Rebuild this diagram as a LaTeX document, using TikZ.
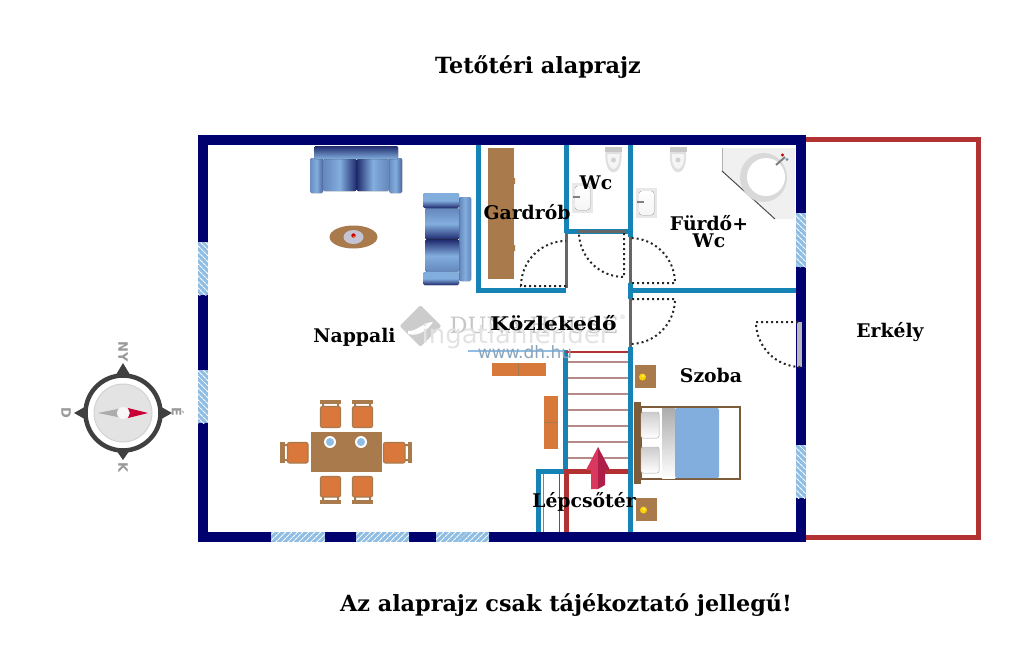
\documentclass[tikz,border=0pt]{standalone}
\usepackage{fontspec}
\usepackage{tikz}
\setmainfont{DejaVu Serif}
\setsansfont{DejaVu Sans}
\usetikzlibrary{patterns.meta,shapes.geometric}
\definecolor{wallnavy}{HTML}{00006E}
\definecolor{wallblue}{HTML}{1583B5}
\definecolor{wallgray}{HTML}{666666}
\definecolor{balconyred}{HTML}{B23234}
\definecolor{glassblue}{HTML}{8FBDE3}
\definecolor{woodbrown}{HTML}{A87A4C}
\definecolor{seatorange}{HTML}{D9783A}
\definecolor{sofadark}{HTML}{1F2A6E}
\definecolor{sofalight}{HTML}{82AEDD}
\definecolor{stairpink}{HTML}{B58A88}
\definecolor{arrowlight}{HTML}{D9395F}
\definecolor{arrowdark}{HTML}{AF1E48}
\tikzset{
  room_label/.style = {font=\bfseries\fontsize{18.8}{19}\selectfont, inner sep=0pt, text=black},
  big_label/.style = {font=\bfseries\fontsize{22.3}{24}\selectfont, inner sep=0pt, text=black},
  compass_label/.style = {font=\sffamily\bfseries\fontsize{13}{13}\selectfont, text=gray!80, inner sep=0pt, rotate=-90},
  outer_wall/.style = {draw=wallnavy, line width=10pt},
  inner_wall/.style = {draw=wallblue, line width=5pt},
  door_gap/.style = {draw=wallgray, line width=3pt},
  door_swing/.style = {draw=black!85, line width=2pt, dash pattern=on 2pt off 3pt},
  sofa_h/.style = {left color=sofalight!75!sofadark, right color=sofalight!45!sofadark, middle color=sofalight},
  sofa_v/.style = {top color=sofalight, bottom color=sofadark, middle color=sofalight},
  sofa_part/.style = {rounded corners=1.5pt, draw=none},
  chair_seat/.style = {fill=seatorange, draw=woodbrown, line width=1.2pt, rounded corners=2pt},
  chair_back/.style = {fill=woodbrown, draw=none},
  plate_rim/.style = {fill=white, draw=none},
  cabinet/.style = {fill=seatorange!90!brown, draw=none},
  window_hatch/.style = {pattern={Lines[angle=#1,distance=4pt,line width=1.1pt]}, pattern color=white},
}
\begin{document}
\begin{tikzpicture}[x=1pt,y=-1pt]
  \useasboundingbox (0,0) rectangle (1024,661);

  % balcony
  \draw [draw=balconyred, line width=5pt] (806,139.5) -- (978,139.5) -- (978,537) -- (806,537);

  % walls
  \draw [outer_wall] (203,140) rectangle (801,537);
  \foreach \ya/\yb in {242/295, 370/423} {
    \fill [glassblue] (198,\ya) rectangle (208,\yb);
    \fill [window_hatch=-45] (198,\ya) rectangle (208,\yb);
  }
  \foreach \ya/\yb in {213/267, 445/498} {
    \fill [glassblue] (796,\ya) rectangle (806,\yb);
    \fill [window_hatch=-45] (796,\ya) rectangle (806,\yb);
  }
  \foreach \xa/\xb in {271/325, 356/409, 436/489} {
    \fill [glassblue] (\xa,532) rectangle (\xb,542);
    \fill [window_hatch=45] (\xa,532) rectangle (\xb,542);
  }

  \draw [inner_wall] (566,233) -- (566,145) (566,290) -- (478.5,290) -- (478.5,145);
  \draw [door_gap] (566,233) -- (566,288);
  \draw [inner_wall] (566,231) -- (630,231);
  \draw [door_gap] (578,231) -- (626,231);
  \draw [inner_wall] (630,145) -- (630,237) (630,283) -- (630,299) (630,347) -- (630,532);
  \draw [door_gap] (630,237) -- (630,283) (630,299) -- (630,347);
  \draw [inner_wall] (630,290) -- (796,290);
  \fill [gray!55] (796.5,322) rectangle (801.5,367);

  % doors
  \draw [door_swing] (566,286) -- (521,286) arc [start angle=180, end angle=270, radius=45];
  \draw [door_swing] (624,233) -- (624,277) arc [start angle=90, end angle=180, radius=45];
  \draw [door_swing] (632,283) -- (675,283) arc [start angle=0, end angle=-90, radius=45];
  \draw [door_swing] (632,299) -- (675,299) arc [start angle=0, end angle=90, radius=45];
  \draw [door_swing] (798,322) -- (756,322) arc [start angle=180, end angle=90, radius=45];

  % stairs
  \draw [draw=glassblue, line width=2pt] (468,351) -- (565,351);
  \draw [inner_wall] (565.5,350) -- (565.5,472);
  \draw [draw=balconyred, line width=2pt] (566,351.5) -- (628,351.5);
  \foreach \ty in {362,378,...,458} {
    \draw [draw=stairpink, line width=1.3pt] (568,\ty) -- (627.5,\ty);
  }
  \draw [inner_wall] (538.5,532) -- (538.5,471) -- (565,471);
  \draw [draw=balconyred, line width=5pt] (627.5,471.5) -- (566,471.5) -- (566,532);
  \draw [draw=balconyred, line width=.7pt] (559,474) -- (559,532);
  \draw [draw=gray, line width=.7pt] (543,474) -- (543,532);
  \fill [arrowlight] (598,447) -- (586,470) -- (591,470) -- (591,489) -- (598,489) -- cycle;
  \fill [arrowdark] (598,447) -- (610,470) -- (605,470) -- (605,485) -- (598,489) -- cycle;

  % sofa top
  \fill [sofa_part, sofa_h] (310,158) rectangle (323,193);
  \fill [sofa_part, sofa_h] (389,158) rectangle (402,193);
  \fill [sofa_part, left color=sofalight!70!sofadark, right color=sofadark, middle color=sofalight] (323,159) rectangle (356.5,191);
  \fill [sofa_part, left color=sofadark, right color=sofalight!70!sofadark, middle color=sofalight] (356.5,159) rectangle (389,191);
  \fill [sofa_part, bottom color=sofalight, top color=sofadark] (314,146) rectangle (398,159);
  % sofa side
  \fill [sofa_part, left color=sofalight!70!sofadark, right color=sofalight!70!sofadark, middle color=sofalight] (459,197) rectangle (471,281);
  \fill [sofa_part, top color=sofalight!70!sofadark, bottom color=sofadark, middle color=sofalight] (425,208) rectangle (459,239.5);
  \fill [sofa_part, top color=sofadark, bottom color=sofalight!70!sofadark, middle color=sofalight] (425,239.5) rectangle (459,272);
  \fill [sofa_part, sofa_v] (423,193) rectangle (459,208);
  \fill [sofa_part, sofa_v] (423,272) rectangle (459,285);

  % coffee table
  \fill [woodbrown] (353.5,237) ellipse [x radius=24, y radius=11.5];
  \fill [blue!15!gray!40] (353.5,237) ellipse [x radius=10, y radius=7];
  \fill [red!80!black] (353.5,235.5) circle [radius=2.2];
  \fill [orange] (354,236.5) circle [radius=.8];

  % dining table
  \foreach \cx in {320,352} {
    \fill [chair_back] (\cx,399.5) rectangle (\cx+21,404);
    \fill [chair_back] (\cx+2,404) rectangle (\cx+4,407) (\cx+17,404) rectangle (\cx+19,407);
    \draw [chair_seat] (\cx+.5,406.5) rectangle (\cx+20.5,427.5);
    \fill [chair_back] (\cx,499.5) rectangle (\cx+21,504);
    \fill [chair_back] (\cx+2,497) rectangle (\cx+4,500) (\cx+17,497) rectangle (\cx+19,500);
    \draw [chair_seat] (\cx+.5,476.5) rectangle (\cx+20.5,497);
  }
  \fill [chair_back] (280,442) rectangle (285,463);
  \fill [chair_back] (285,444) rectangle (288,446) (285,459) rectangle (288,461);
  \draw [chair_seat] (287.5,442.5) rectangle (308,463);
  \fill [chair_back] (407.5,442) rectangle (412,463);
  \fill [chair_back] (405,444) rectangle (408,446) (405,459) rectangle (408,461);
  \draw [chair_seat] (383.5,442.5) rectangle (405,463);
  \fill [woodbrown] (311,432) rectangle (381.5,472);
  \foreach \px in {330,361} {
    \fill [plate_rim] (\px,442) circle [radius=6];
    \fill [glassblue] (\px,442) circle [radius=4];
  }

  % cabinets
  \fill [cabinet] (492,363) rectangle (546,376);
  \draw [draw=woodbrown, line width=.4pt] (518.5,363) -- (518.5,376);
  \fill [cabinet] (544,396) rectangle (558,449);
  \draw [draw=woodbrown, line width=.4pt] (544,422.5) -- (558,422.5);

  % wardrobe
  \fill [woodbrown] (488,148) rectangle (513.5,279);
  \fill [woodbrown] (513.5,178) rectangle (515,184) (513.5,245) rectangle (515,251);

  % bed
  \fill [woodbrown!75!black] (634,402) rectangle (641,484);
  \draw [draw=woodbrown!75!black, line width=2.5pt] (641,407) rectangle (740,479);
  \fill [top color=gray!65, bottom color=white] (662,408) rectangle (675,478);
  \fill [rounded corners=2pt, fill=sofalight] (675,408) rectangle (719,478);
  \fill [rounded corners=2pt, top color=gray!40, bottom color=white, draw=gray!50, line width=.4pt] (641,412) rectangle (659,438);
  \fill [rounded corners=2pt, top color=gray!40, bottom color=white, draw=gray!50, line width=.4pt] (641,447) rectangle (659,473);

  % night tables
  \foreach \nx/\ny in {635/365, 636/498} {
    \fill [woodbrown] (\nx,\ny) rectangle (\nx+21,\ny+23);
    \fill [yellow!70!orange] (\nx+7.5,\ny+12) circle [radius=3.5];
    \fill [yellow!40!white] (\nx+8,\ny+11) circle [radius=1.2];
  }

  % toilets
  \foreach \tx in {613.5,678} {
    \fill [gray!45] (\tx-8.5,147) rectangle (\tx+8.5,152);
    \fill [gray!25] (\tx-8,152) -- (\tx+8,152) .. controls (\tx+9,164) and (\tx+5,172.5) .. (\tx,172.5) .. controls (\tx-5,172.5) and (\tx-9,164) .. (\tx-8,152);
    \fill [gray!8] (\tx-6,154) -- (\tx+6,154) .. controls (\tx+7,163) and (\tx+3,169) .. (\tx,169) .. controls (\tx-3,169) and (\tx-7,163) .. (\tx-6,154);
    \fill [gray!35] (\tx,160) circle [radius=2.5];
  }

  % sinks
  \foreach \sx/\sy in {572/183, 636/188} {
    \fill [gray!18] (\sx,\sy) rectangle (\sx+21,\sy+30);
    \fill [rounded corners=3pt, top color=white, bottom color=gray!8] (\sx+3,\sy+3) rectangle (\sx+18,\sy+27);
    \fill [gray] (\sx+1,\sy+13) rectangle (\sx+8,\sy+15);
  }

  % bath
  \fill [gray!12] (722,148) -- (795,148) -- (795,219) -- (775,219) -- (722,171) -- cycle;
  \draw [draw=gray!60, line width=1pt] (722,148) -- (722,171);
  \draw [draw=black!70, line width=1pt] (722,171) -- (775,219);
  \fill [gray!30] (763.5,177.5) ellipse [x radius=23.5, y radius=24.5];
  \fill [white] (766,177) ellipse [x radius=19, y radius=19];
  \draw [draw=gray, line width=2pt] (776,165) -- (785,157);
  \fill [red!70!black] (782.5,155) circle [radius=1.6];
  \fill [glassblue!80!black] (787,159.5) circle [radius=1.6];

  % watermark
  \node (logo) [diamond, fill=gray!40, minimum width=42pt, minimum height=42pt, inner sep=0pt, rounded corners=2pt] at (420.5,326) {};
  \fill [white] (408,331) .. controls (416,332) and (424,322) .. (433,322) .. controls (428,330) and (418,337) .. (408,334) -- cycle;
  \node (duna) [font=\fontsize{22.5}{22}\selectfont, text=gray!45, inner sep=0pt] at (534,325) {DUNA HOUSE};
  \node (duna_r) [font=\fontsize{6}{6}\selectfont, text=gray!45, inner sep=0pt] at (622.5,317) {®};
  \node (ingatlan) [font=\sffamily\fontsize{26}{26}\selectfont, text=gray!22, inner sep=0pt] at (516,336) {ingatlanlender};
  \node (www) [font=\sffamily\fontsize{17}{17}\selectfont, text=gray!40!glassblue, inner sep=0pt] at (525,352) {www.dh.hu};

  % labels
  \node (title) [big_label] at (538,67) {Tetőtéri alaprajz};
  \node (note) [big_label] at (566,605) {Az alaprajz csak tájékoztató jellegű!};
  \node (nappali) [room_label] at (354.5,337) {Nappali};
  \node (gardrob) [room_label] at (527,212.5) {Gardrób};
  \node (wc_small) [room_label] at (596,182.5) {Wc};
  \node (furdo) [room_label] at (709,223.5) {Fürdő+};
  \node (wc_bath) [room_label] at (709,240.5) {Wc};
  \node (kozlekedo) [room_label, xscale=1.16] at (553.5,323.5) {Közlekedő};
  \node (erkely) [room_label] at (890,332.5) {Erkély};
  \node (szoba) [room_label] at (711,375.5) {Szoba};
  \node (lepcso) [room_label] at (584,501.5) {Lépcsőtér};

  % compass
  \fill [black!75] (123,363) -- (132,378) -- (114,378) -- cycle;
  \fill [black!75] (123,460) -- (132,447) -- (114,447) -- cycle;
  \fill [black!75] (74,413) -- (90,404) -- (90,422) -- cycle;
  \fill [black!75] (172,413) -- (156,404) -- (156,422) -- cycle;
  \node (compass) [circle, fill=white, draw=black!75, line width=4.5pt, minimum size=75pt, inner sep=0pt] at (123,413) {};
  \node (compass_disc) [circle, fill=gray!22, draw=gray!35, line width=1pt, minimum size=58pt, inner sep=0pt] at (123,413) {};
  \fill [gray!65] (98,413) -- (120,408.5) -- (120,417.5) -- cycle;
  \fill [purple!85!red] (148,413) -- (128,408) -- (130,413) -- (128,418) -- cycle;
  \node (compass_hub) [circle, fill=gray!6, minimum size=12pt, inner sep=0pt] at (123,413) {};
  \node (north) [compass_label] at (123,352) {NY};
  \node (east) [compass_label] at (178,412) {É};
  \node (west) [compass_label] at (66,413) {D};
  \node (south) [compass_label] at (123,468) {K};
\end{tikzpicture}
\end{document}
